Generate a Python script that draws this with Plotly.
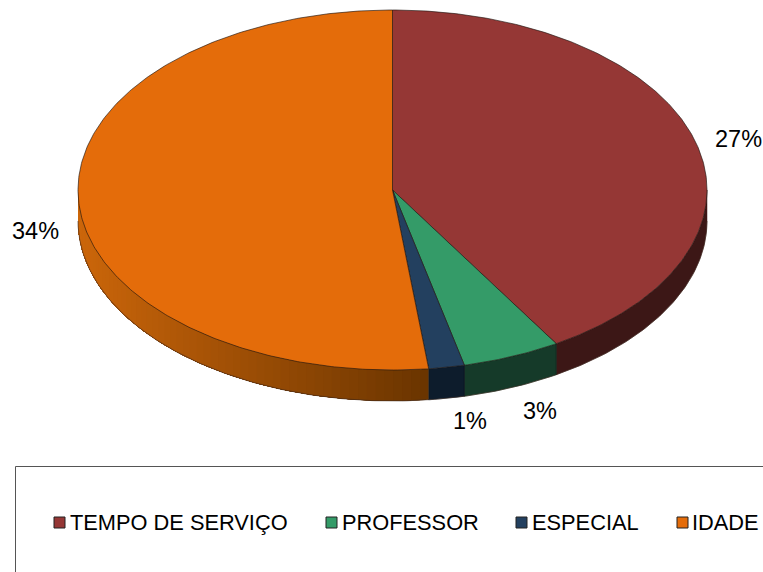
import math
import plotly.graph_objects as go

categories = ["TEMPO DE SERVIÇO", "PROFESSOR", "ESPECIAL", "IDADE"]
values = [27.0, 3.3, 1.2, 33.9]
top_colors = ["#953735", "#349B68", "#23405F", "#E46C0A"]
side_colors = ["#3C1716", "#153A29", "#0D1C2C", None]
label_x = [738, 540, 470, 35]
label_y = [139, 411, 421, 231]
swatch_x = [54, 326, 516, 677]
text_x = [70, 342, 532, 692]

W, H = 763, 572
CX, CY, RX, RY, DEPTH = 392.5, 190, 314.5, 180, 31
FONT = "Liberation Sans, Arial, sans-serif"


def pt(t, dy=0.0):
    return CX + RX * math.sin(t), CY - RY * math.cos(t) + dy


def arc(a, b, dy=0.0, n=None):
    n = n or max(2, int(abs(b - a) * 90))
    return [pt(a + (b - a) * i / n, dy) for i in range(n + 1)]


def mix(c1, c2, f):
    return "rgb(%d,%d,%d)" % tuple(round(c1[i] + (c2[i] - c1[i]) * f) for i in range(3))


fig = go.Figure()
total = sum(values)
edges = [0.0]
for v in values:
    edges.append(edges[-1] + v / total * 2 * math.pi)


def poly(points, fill, line, width):
    xs = [p[0] for p in points] + [points[0][0]]
    ys = [p[1] for p in points] + [points[0][1]]
    fig.add_trace(go.Scatter(x=xs, y=ys, mode="lines", fill="toself", fillcolor=fill,
                             line=dict(color=line, width=width), hoverinfo="skip",
                             showlegend=False))


# side walls (front half only)
for i in range(len(values)):
    a, b = max(edges[i], math.pi / 2), min(edges[i + 1], 3 * math.pi / 2)
    if b <= a:
        continue
    if side_colors[i]:
        poly(arc(a, b) + arc(b, a, DEPTH), side_colors[i], side_colors[i], 0.5)
    else:
        # gradient runs horizontally across the wall
        strips = 60
        xa, xb = pt(a)[0], pt(b)[0]
        for s in range(strips):
            t0 = a + (b - a) * s / strips
            f = (pt(t0)[0] - xa) / (xb - xa)
            c = mix((0x6B, 0x35, 0x00), (0xCC, 0x66, 0x0A), f)
            poly(arc(t0, b) + arc(b, t0, DEPTH), c, c, 0)

# outer lower outline of wall
low = arc(math.pi / 2, 3 * math.pi / 2, DEPTH)
fig.add_trace(go.Scatter(x=[p[0] for p in low], y=[p[1] for p in low], mode="lines",
                         line=dict(color="rgba(60,40,30,0.6)", width=1),
                         hoverinfo="skip", showlegend=False))

# vertical seams between slices on the wall
for e in edges[1:-1]:
    if math.pi / 2 < e < 3 * math.pi / 2:
        p0, p1 = pt(e), pt(e, DEPTH)
        fig.add_trace(go.Scatter(x=[p0[0], p1[0]], y=[p0[1], p1[1]], mode="lines",
                                 line=dict(color="rgba(0,0,0,0.55)", width=0.7),
                                 hoverinfo="skip", showlegend=False))

# top faces
for i, v in enumerate(values):
    poly([(CX, CY)] + arc(edges[i], edges[i + 1]), top_colors[i], "rgba(30,20,15,0.8)", 0.8)

annotations = []
for i, v in enumerate(values):
    annotations.append(dict(x=label_x[i], y=label_y[i], xref="x", yref="y",
                            text=f"{round(v)}%", showarrow=False,
                            font=dict(family=FONT, size=23.5, color="#000000")))
    annotations.append(dict(x=text_x[i], y=522, xref="x", yref="y", xanchor="left",
                            text=categories[i], showarrow=False, xshift=-2,
                            font=dict(family=FONT, size=21.8, color="#000000")))

shapes = [dict(type="rect", x0=15.5, x1=800, y0=466.5, y1=600, xref="x", yref="y",
               line=dict(color="#555555", width=1), fillcolor="rgba(0,0,0,0)", layer="below")]
for i in range(len(values)):
    shapes.append(dict(type="rect", x0=swatch_x[i], x1=swatch_x[i] + 11, y0=517, y1=528,
                       xref="x", yref="y", fillcolor=top_colors[i],
                       line=dict(color="#222222", width=1)))

fig.update_layout(
    width=W, height=H, margin=dict(l=0, r=0, t=0, b=0),
    paper_bgcolor="white", plot_bgcolor="white", showlegend=False,
    xaxis=dict(range=[0, W], visible=False, fixedrange=True),
    yaxis=dict(range=[H, 0], visible=False, fixedrange=True),
    annotations=annotations, shapes=shapes,
)
fig.write_html("out.html", config={"displayModeBar": False},
               post_script="document.body.style.margin='0';document.body.style.overflow='hidden';")
